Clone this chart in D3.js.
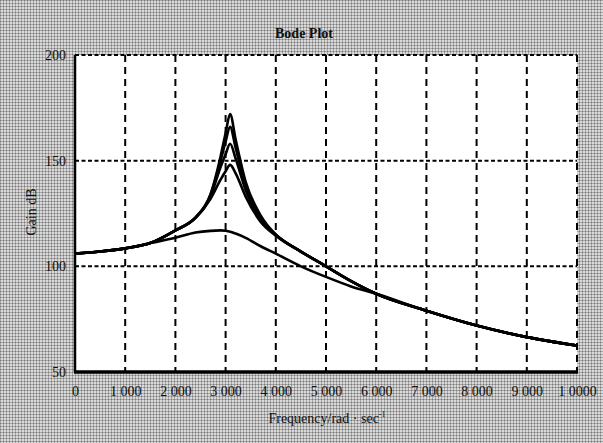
<!DOCTYPE html>
<html>
<head>
<meta charset="utf-8">
<script src="https://cdn.jsdelivr.net/npm/d3@7"></script>
<style>
  body { margin:0; background:#fff; }
  text { font-family:"Liberation Serif","Times New Roman",serif; fill:#111; }
</style>
</head>
<body>
<div class="page"></div>
<script>
// frequency samples (rad/s)
var freq = [0, 500, 1000, 1500, 2000, 2400, 2700, 2900, 3000, 3090, 3200, 3400, 3700, 4000, 4500, 5000, 5500, 6000, 7000, 8000, 9000, 10000];

// gain (dB) for each curve
var gainA = [106, 107, 108.5, 111, 117, 123, 134, 152, 163, 172, 160, 140, 124, 115, 107, 100, 93, 87, 79, 72, 66.5, 62.5];
var gainB = [106, 107, 108.5, 111, 117, 123, 134, 150, 159, 166, 156, 138, 123, 115, 107, 100, 93, 87, 79, 72, 66.5, 62.5];
var gainC = [106, 107, 108.5, 111, 117, 123, 133, 147, 153, 158, 151, 136, 122, 115, 107, 100, 93, 87, 79, 72, 66.5, 62.5];
var gainD = [106, 107, 108.5, 111, 117, 123, 132, 141, 145, 148, 144, 133, 121, 114.5, 107, 100, 93, 87, 79, 72, 66.5, 62.5];
var gainE = [106, 107, 108.5, 111, 113.5, 116, 116.8, 117, 116.8, 116.4, 115.5, 113.5, 109.5, 106, 100, 95, 90.5, 87, 79, 72, 66.5, 62.5];

var xTicks = [0, 1000, 2000, 3000, 4000, 5000, 6000, 7000, 8000, 9000, 10000];
var xTickLabels = ['0', '1 000', '2 000', '3 000', '4 000', '5 000', '6 000', '7 000', '8 000', '9 000', '1 0000'];
var yTicks = [50, 100, 150, 200];

var width = 603, height = 443;
var margins = {top:55, right:26, bottom:71, left:75};
var plotW = width - margins.left - margins.right,
    plotH = height - margins.top - margins.bottom;

var svg = d3.select('.page').append('svg')
  .attr('width', width)
  .attr('height', height);

// halftone-ish grey background
var pat = svg.append('defs').append('pattern')
  .attr('id', 'halftone')
  .attr('width', 3).attr('height', 3)
  .attr('patternUnits', 'userSpaceOnUse');
pat.append('rect').attr('width', 3).attr('height', 3).attr('fill', '#d9d9d9');
pat.append('rect').attr('width', 3).attr('height', 1).attr('fill', '#a6a6a6');
pat.append('rect').attr('width', 1).attr('height', 3).attr('fill', '#a6a6a6');
pat.append('rect').attr('width', 1).attr('height', 1).attr('fill', '#7a7a7a');

svg.append('rect')
  .attr('width', width).attr('height', height)
  .attr('fill', 'url(#halftone)');

var xScale = d3.scaleLinear().domain([0, 10000]).range([0, plotW]);
var yScale = d3.scaleLinear().domain([50, 200]).range([plotH, 0]);

var plot = svg.append('g')
  .attr('transform', 'translate(' + margins.left + ',' + margins.top + ')');

plot.append('rect')
  .attr('width', plotW).attr('height', plotH)
  .attr('fill', '#fff');

// vertical dashed grid
plot.selectAll('.vgrid').data(xTicks.slice(1))
  .enter().append('line')
  .attr('class', 'vgrid')
  .attr('x1', function(d) { return xScale(d); })
  .attr('x2', function(d) { return xScale(d); })
  .attr('y1', 0).attr('y2', plotH)
  .attr('stroke', '#000').attr('stroke-width', 2)
  .attr('stroke-dasharray', '7,5');

// horizontal dotted grid
plot.selectAll('.hgrid').data(yTicks.slice(1))
  .enter().append('line')
  .attr('class', 'hgrid')
  .attr('x1', 0).attr('x2', plotW)
  .attr('y1', function(d) { return yScale(d); })
  .attr('y2', function(d) { return yScale(d); })
  .attr('stroke', '#000').attr('stroke-width', 2)
  .attr('stroke-dasharray', '4,2.5');

// solid left + bottom frame
plot.append('line')
  .attr('x1', 0).attr('x2', 0).attr('y1', 0).attr('y2', plotH)
  .attr('stroke', '#000').attr('stroke-width', 2.5);
plot.append('line')
  .attr('x1', -1).attr('x2', plotW + 1).attr('y1', plotH).attr('y2', plotH)
  .attr('stroke', '#000').attr('stroke-width', 3.5);

// curves
var line = d3.line()
  .x(function(d, i) { return xScale(freq[i]); })
  .y(function(d) { return yScale(d); })
  .curve(d3.curveMonotoneX);

plot.selectAll('.curve').data([gainE, gainD, gainC, gainB, gainA])
  .enter().append('path')
  .attr('class', 'curve')
  .attr('d', line)
  .attr('fill', 'none')
  .attr('stroke', '#000')
  .attr('stroke-width', 2.6)
  .attr('stroke-linejoin', 'round');

// axes
var xAxis = d3.axisBottom(xScale)
  .tickValues(xTicks)
  .tickSize(0)
  .tickPadding(14)
  .tickFormat(function(d, i) { return xTickLabels[i]; });
var yAxis = d3.axisLeft(yScale)
  .tickValues(yTicks)
  .tickSize(0)
  .tickPadding(9);

var gx = plot.append('g')
  .attr('transform', 'translate(0,' + plotH + ')')
  .call(xAxis);
gx.select('.domain').remove();
gx.selectAll('text')
  .style('font-family', '"Liberation Serif",serif')
  .style('font-size', '14px')
  .attr('fill', '#000');

var gy = plot.append('g').call(yAxis);
gy.select('.domain').remove();
gy.selectAll('text')
  .style('font-family', '"Liberation Serif",serif')
  .style('font-size', '14px')
  .attr('fill', '#000');

// titles
svg.append('text')
  .text('Bode Plot')
  .attr('x', 304).attr('y', 38)
  .attr('text-anchor', 'middle')
  .style('font-size', '14px')
  .style('font-weight', 'bold');

var xt = svg.append('text')
  .attr('x', 327).attr('y', 423)
  .attr('text-anchor', 'middle')
  .style('font-size', '14px');
xt.append('tspan').text('Frequency/rad · sec');
xt.append('tspan').text('-1').attr('dy', -6).style('font-size', '8px');

svg.append('text')
  .text('Gain dB')
  .attr('transform', 'translate(36,212) rotate(-90)')
  .attr('text-anchor', 'middle')
  .style('font-size', '14px');
</script>
</body>
</html>
